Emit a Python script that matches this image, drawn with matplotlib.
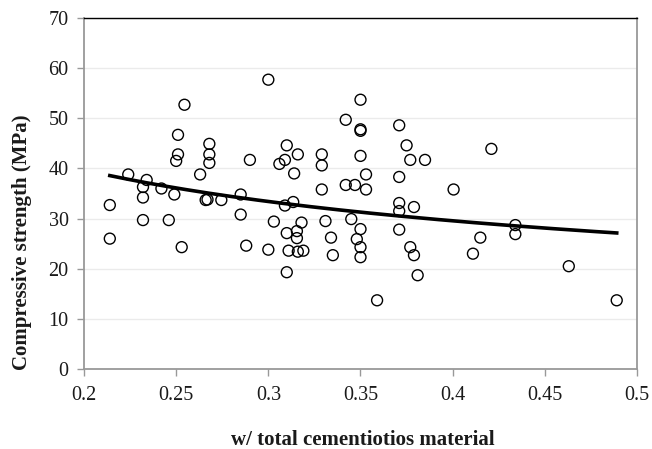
import numpy as np
import matplotlib
matplotlib.use("Agg")
import matplotlib.pyplot as plt

wc = [0.214, 0.214, 0.224, 0.234, 0.232, 0.232, 0.232, 0.242, 0.246, 0.249,
      0.253, 0.2545, 0.251, 0.251, 0.250, 0.263, 0.268, 0.268, 0.268, 0.266,
      0.267, 0.2745,
      0.285, 0.285, 0.288, 0.290, 0.300, 0.300, 0.303, 0.306, 0.309, 0.310,
      0.309, 0.310, 0.311, 0.310, 0.314, 0.3135, 0.3155, 0.3155, 0.316, 0.318,
      0.316, 0.319, 0.329, 0.329, 0.329, 0.331, 0.334, 0.335, 0.342, 0.342,
      0.345, 0.347, 0.348, 0.350, 0.350, 0.350, 0.350, 0.350, 0.350, 0.350,
      0.353, 0.353,
      0.371, 0.375, 0.377, 0.385, 0.371, 0.371, 0.371, 0.379, 0.371, 0.377,
      0.379, 0.381, 0.359, 0.4005, 0.421, 0.415, 0.411,
      0.434, 0.434, 0.463, 0.489]
strength = [32.7, 26.0, 38.8, 37.7, 36.3, 34.2, 29.7, 36.0, 29.7, 34.8,
            24.3, 52.7, 46.7, 42.8, 41.5, 38.8, 44.9, 42.8, 41.1, 33.7,
            33.8, 33.7,
            34.8, 30.8, 24.6, 41.7, 57.7, 23.8, 29.4, 40.9, 41.7, 44.6,
            32.6, 27.1, 23.6, 19.3, 39.0, 33.3, 27.5, 26.1, 42.8, 29.2,
            23.4, 23.6, 42.8, 40.6, 35.8, 29.5, 26.2, 22.7, 49.7, 36.7,
            29.9, 36.7, 25.9, 53.7, 47.8, 47.5, 42.5, 27.9, 24.3, 22.3,
            38.8, 35.8,
            48.6, 44.6, 41.7, 41.7, 38.3, 33.1, 31.5, 32.3, 27.8, 24.3,
            22.7, 18.7, 13.7, 35.8, 43.9, 26.2, 23.0,
            28.7, 26.9, 20.5, 13.7]

x_ticks = [0.2, 0.25, 0.3, 0.35, 0.4, 0.45, 0.5]
x_tick_labels = ["0.2", "0.25", "0.3", "0.35", "0.4", "0.45", "0.5"]
y_ticks = [0, 10, 20, 30, 40, 50, 60, 70]

plt.rcParams['font.family'] = ['Liberation Serif', 'DejaVu Serif']

W, H = 652, 449
fig = plt.figure(figsize=(W / 100, H / 100), dpi=100)
ax = fig.add_axes([84 / W, 1 - 369 / H, (637 - 84) / W, (369 - 18) / H])

x = np.array(wc)
y = np.array(strength)
ax.scatter(x, y, s=62, facecolors='none', edgecolors='black', linewidths=1.0, zorder=3)

# power trend line (least squares in log space)
b, ln_a = np.polyfit(np.log(x), np.log(y), 1)
xt = np.linspace(x.min(), x.max(), 200)
ax.plot(xt, np.exp(ln_a) * xt ** b, color='black', lw=2.6, zorder=4)

ax.set_xlim(0.2, 0.5)
ax.set_ylim(0, 70)
ax.set_xticks(x_ticks)
ax.set_xticklabels(x_tick_labels)
ax.set_yticks(y_ticks)
ax.yaxis.grid(True, color='#ebebeb', lw=1)
ax.set_axisbelow(True)
for s in ['left', 'bottom', 'right']:
    ax.spines[s].set_color('#999999')
    ax.spines[s].set_linewidth(1.3)
ax.spines['top'].set_color('black')
ax.spines['top'].set_linewidth(1.0)
ax.tick_params(axis='both', colors='#999999', labelcolor='#1a1a1a', labelsize=14.5,
               direction='out', length=5, width=1)
ax.tick_params(axis='x', pad=7)
ax.tick_params(axis='y', pad=6)

fig.text(363 / W, 1 - 440 / H, 'w/ total cementiotios material', fontsize=15,
         fontweight='bold', ha='center', va='center', color='#1a1a1a')
fig.text(22 / W, 1 - 242 / H, 'Compressive strength (MPa)', fontsize=15,
         fontweight='bold', ha='center', va='center', rotation=90, color='#1a1a1a')

fig.savefig('out.png', dpi=100)
